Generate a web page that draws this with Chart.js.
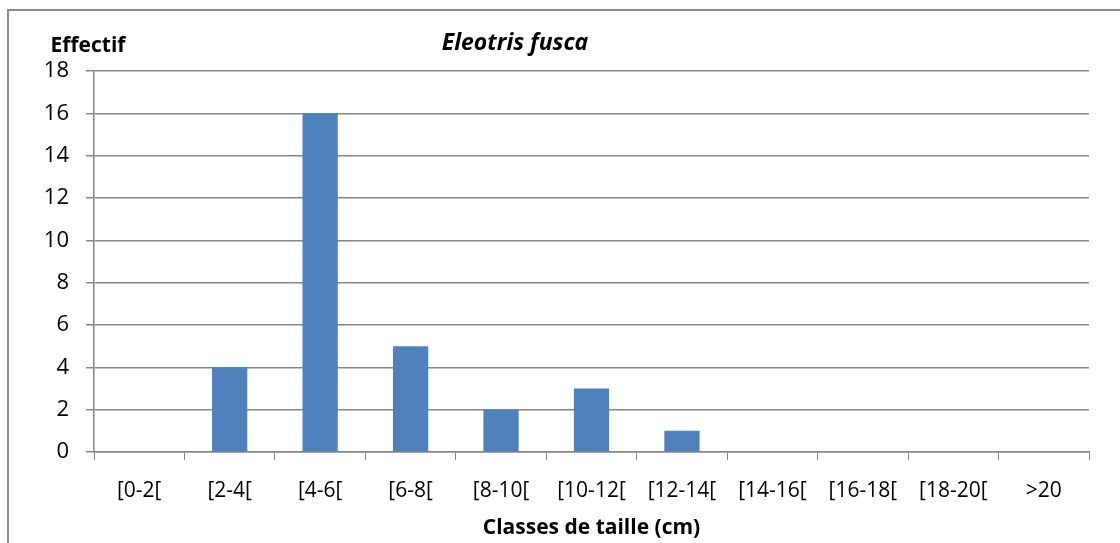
<!DOCTYPE html>
<html>
<head>
<meta charset="utf-8">
<script src="https://cdn.jsdelivr.net/npm/chart.js@4.4.0/dist/chart.umd.min.js"></script>
<style>
  html, body { margin: 0; padding: 0; background: #fff; }
  #wrap { width: 1120px; height: 543px; position: relative; }
</style>
</head>
<body>
<div id="wrap"><canvas id="chart" width="1120" height="543"></canvas></div>
<script>
// data
const classes = ["[0-2[", "[2-4[", "[4-6[", "[6-8[", "[8-10[", "[10-12[", "[12-14[", "[14-16[", "[16-18[", "[18-20[", ">20"];
const effectif = [0, 4, 16, 5, 2, 3, 1, 0, 0, 0, 0];
const yTicks = [0, 2, 4, 6, 8, 10, 12, 14, 16, 18];

const chartTitle = "Eleotris fusca";
const yTitle = "Effectif";
const xTitle = "Classes de taille (cm)";

const FONT = "'Open Sans', 'Noto Sans', sans-serif";
const GRID = "#868686";

// outer frame + titles drawn over the canvas
const decor = {
    id: "decor",
    beforeDraw(chart) {
        const ctx = chart.ctx;
        ctx.save();
        ctx.strokeStyle = "#8c8c8c";
        ctx.lineWidth = 2;
        ctx.strokeRect(8, 10, 2000, 2000);
        ctx.restore();
    },
    afterDraw(chart) {
        const ctx = chart.ctx;
        ctx.save();
        ctx.fillStyle = "#000";
        ctx.textBaseline = "middle";
        ctx.textAlign = "center";
        ctx.font = "italic bold 23px " + FONT;
        ctx.fillText(chartTitle, 515, 43);
        ctx.font = "bold 21px " + FONT;
        ctx.fillText(yTitle, 88, 46);
        ctx.restore();
    }
};

new Chart(document.getElementById("chart"), {
    type: "bar",
    data: {
        labels: classes,
        datasets: [{
            label: yTitle,
            data: effectif,
            backgroundColor: "#4F81BD",
            borderWidth: 0,
            categoryPercentage: 1,
            barPercentage: 0.39
        }]
    },
    options: {
        responsive: false,
        animation: false,
        layout: { padding: { top: 71, right: 31, bottom: 0, left: 0 } },
        plugins: {
            legend: { display: false },
            tooltip: { enabled: false }
        },
        scales: {
            x: {
                grid: {
                    display: true,
                    drawOnChartArea: false,
                    drawTicks: true,
                    tickLength: 8,
                    color: GRID,
                    offset: true
                },
                border: { color: GRID, width: 1.5 },
                ticks: {
                    color: "#000",
                    font: { family: FONT, size: 21 },
                    padding: 18,
                    maxRotation: 0,
                    autoSkip: false
                },
                title: {
                    display: true,
                    text: xTitle,
                    color: "#000",
                    font: { family: FONT, size: 21, weight: "bold" },
                    padding: { top: 0, bottom: 2 }
                },
                afterFit(scale) { scale.height = 91; }
            },
            y: {
                min: 0,
                max: 18,
                afterBuildTicks(scale) {
                    scale.ticks = yTicks.map(v => ({ value: v }));
                },
                grid: {
                    color: GRID,
                    lineWidth: 1.5,
                    drawTicks: true,
                    tickLength: 8
                },
                border: { color: GRID, width: 1.5 },
                ticks: {
                    color: "#000",
                    font: { family: FONT, size: 22 },
                    padding: 17
                },
                afterFit(scale) { scale.width = 94; }
            }
        }
    },
    plugins: [decor]
});
</script>
</body>
</html>
